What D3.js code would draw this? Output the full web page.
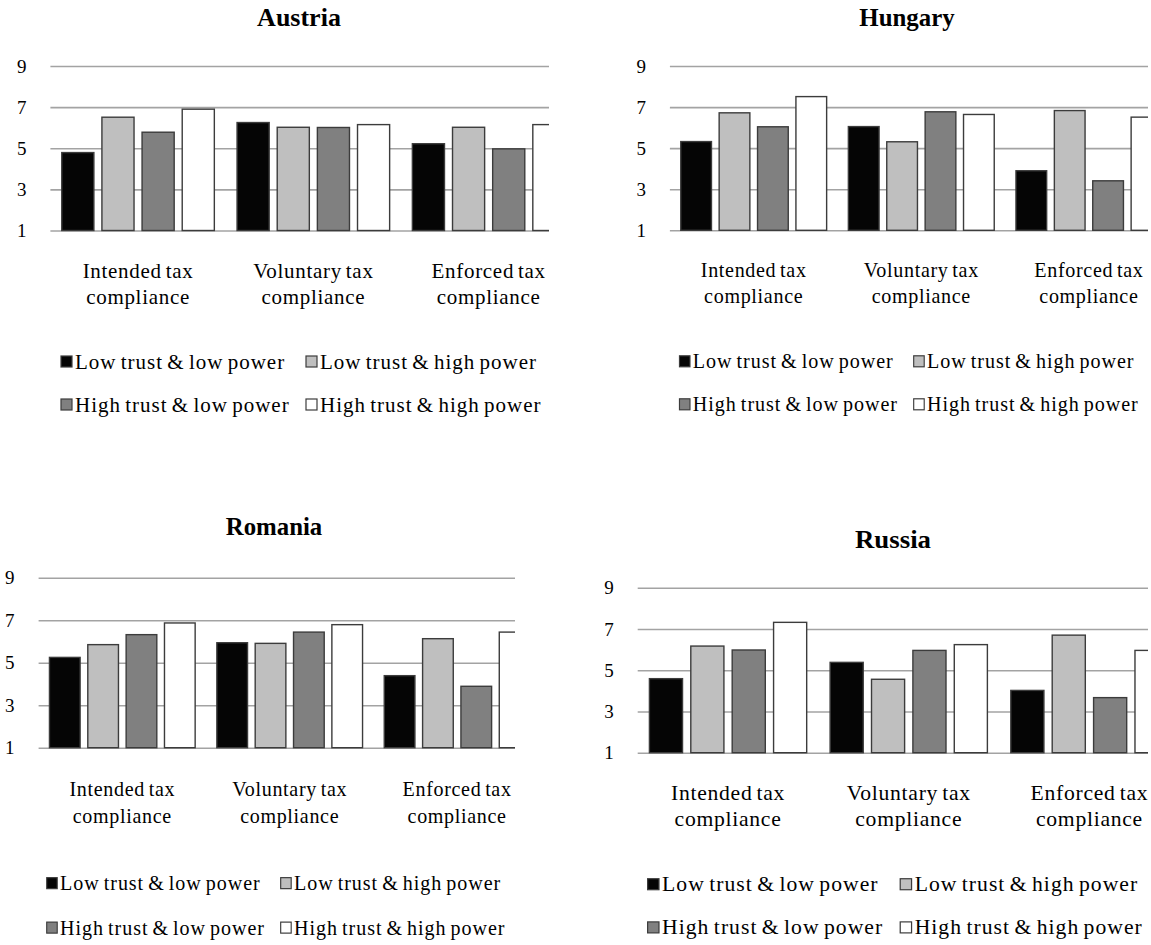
<!DOCTYPE html>
<html>
<head>
<meta charset="utf-8">
<script src="https://cdn.jsdelivr.net/npm/d3@7"></script>
<style>
  html, body { margin: 0; padding: 0; background: #fff; }
  svg { display: block; }
  text { font-family: "Liberation Serif", "Times New Roman", serif; fill: #000; }
</style>
</head>
<body>
<svg id="chart" width="1151" height="945"></svg>
<script>
// Mean compliance scores (scale 1-9) by experimental condition
const categories = [
  ["Intended tax", "compliance"],
  ["Voluntary tax", "compliance"],
  ["Enforced tax", "compliance"]
];
const seriesNames = [
  "Low trust & low power",
  "Low trust & high power",
  "High trust & low power",
  "High trust & high power"
];
const seriesColors = ["#050505", "#bfbfbf", "#808080", "#ffffff"];
const yTicks = [1, 3, 5, 7, 9];

// values per category: [low/low, low/high, high/low, high/high]
const austriaValues = [[4.79, 6.51, 5.78, 6.90], [6.25, 6.02, 6.01, 6.15], [5.22, 6.02, 4.97, 6.15]];
const hungaryValues = [[5.32, 6.72, 6.04, 7.51], [6.05, 5.31, 6.77, 6.64], [3.90, 6.83, 3.41, 6.51]];
const romaniaValues = [[5.25, 5.85, 6.32, 6.87], [5.94, 5.91, 6.44, 6.79], [4.39, 6.13, 3.89, 6.44]];
const russiaValues  = [[4.59, 6.17, 5.98, 7.32], [5.38, 4.56, 5.96, 6.24], [4.02, 6.70, 3.67, 5.96]];

// Panel layout: plot origin, category width, vertical extent, visible right edge
const panels = [
  { title: "Austria", values: austriaValues, left: 50.4, band: 175.3, yTop: 66,    yBottom: 230.5, clipRight: 549,  centerX: 299, titleY: 26,  sx: 1.0,   sy: 1.0 },
  { title: "Hungary", values: hungaryValues, left: 669.9, band: 167.6, yTop: 66,   yBottom: 230.3, clipRight: 1148, centerX: 907, titleY: 26,  sx: 0.956, sy: 1.0 },
  { title: "Romania", values: romaniaValues, left: 38.6, band: 167.4, yTop: 577.7, yBottom: 747.7, clipRight: 515,  centerX: 274, titleY: 535, sx: 0.955, sy: 1.034 },
  { title: "Russia",  values: russiaValues,  left: 637.7, band: 180.7, yTop: 587.7, yBottom: 752.7, clipRight: 1148, centerX: 893, titleY: 548, sx: 1.031, sy: 1.004 }
];

const svg = d3.select("#chart");
const defs = svg.append("defs");

panels.forEach((p, pi) => {
  const clipId = "clip-" + pi;
  const top = p.titleY - 30;
  defs.append("clipPath").attr("id", clipId)
    .append("rect")
    .attr("x", p.left - 60).attr("y", top)
    .attr("width", p.clipRight - (p.left - 60))
    .attr("height", 470);

  const g = svg.append("g").attr("clip-path", `url(#${clipId})`);

  const x0 = d3.scaleBand()
    .domain(d3.range(categories.length))
    .range([p.left, p.left + categories.length * p.band])
    .padding(0);
  const x1 = d3.scaleBand()
    .domain(d3.range(seriesNames.length))
    .range([0, x0.bandwidth()])
    .paddingInner(0.2)
    .paddingOuter(0.283);
  const y = d3.scaleLinear().domain([1, 9]).range([p.yBottom, p.yTop]);

  // title
  g.append("text")
    .attr("transform", `translate(${p.centerX},${p.titleY}) scale(${p.sx},1)`)
    .attr("text-anchor", "middle")
    .attr("font-size", 26)
    .attr("font-weight", "bold")
    .text(p.title);

  // gridlines + tick labels
  const axis = d3.axisLeft(y)
    .tickValues(yTicks)
    .tickSize(-(x0.range()[1] - x0.range()[0]))
    .tickPadding(24)
    .tickFormat(d3.format("d"));
  const ag = g.append("g")
    .attr("transform", `translate(${p.left},0)`)
    .call(axis);
  ag.select(".domain").remove();
  ag.selectAll(".tick line").attr("stroke", "#a3a3a3").attr("stroke-width", 1.6);
  ag.selectAll(".tick text")
    .attr("font-size", 19)
    .attr("font-family", "\"Liberation Serif\", \"Times New Roman\", serif")
    .attr("fill", "#000");

  // bars
  const groups = g.selectAll("g.cat")
    .data(p.values)
    .join("g")
    .attr("class", "cat")
    .attr("transform", (d, i) => `translate(${x0(i)},0)`);
  groups.selectAll("rect")
    .data(d => d)
    .join("rect")
    .attr("x", (d, j) => x1(j))
    .attr("y", d => y(d))
    .attr("width", x1.bandwidth())
    .attr("height", d => y(1) - y(d))
    .attr("fill", (d, j) => seriesColors[j])
    .attr("stroke", "#3c3c3c")
    .attr("stroke-width", 1.4);

  // category labels, two lines each
  categories.forEach((lines, i) => {
    const cx = x0(i) + x0.bandwidth() / 2;
    lines.forEach((line, k) => {
      g.append("text")
        .attr("transform", `translate(${cx},${p.yBottom + (47 + k * 26) * p.sy}) scale(${p.sx},1)`)
        .attr("text-anchor", "middle")
        .attr("font-size", 21)
        .attr("letter-spacing", 0.7)
        .attr("word-spacing", -2)
        .text(line);
    });
  });

  // legend: two rows, two columns
  const legendCols = [-238, 7];
  seriesNames.forEach((name, s) => {
    const row = Math.floor(s / 2);
    const col = s % 2;
    const ly = p.yBottom + (131 + row * 43) * p.sy;
    const lg = g.append("g")
      .attr("transform", `translate(${p.centerX},${ly}) scale(${p.sx},1)`);
    lg.append("rect")
      .attr("x", legendCols[col])
      .attr("y", -5.5)
      .attr("width", 11)
      .attr("height", 11)
      .attr("fill", seriesColors[s])
      .attr("stroke", "#3c3c3c")
      .attr("stroke-width", 1.2);
    lg.append("text")
      .attr("x", legendCols[col] + 14)
      .attr("y", 7)
      .attr("font-size", 21)
      .attr("letter-spacing", 1.0)
      .attr("word-spacing", -2)
      .text(name);
  });
});
</script>
</body>
</html>
